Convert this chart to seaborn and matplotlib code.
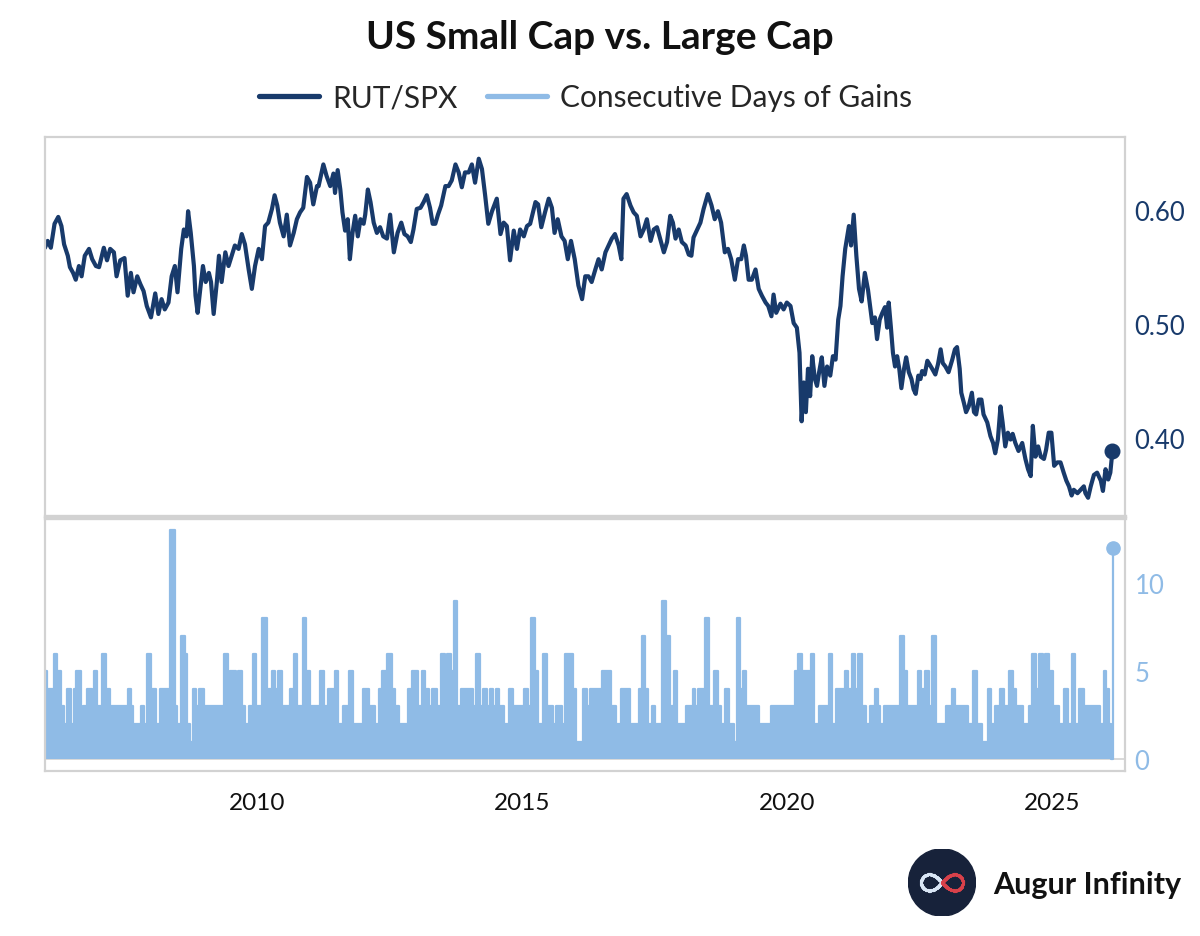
import numpy as np
import pandas as pd
import seaborn as sns
import matplotlib.pyplot as plt
from matplotlib.lines import Line2D
from matplotlib.patches import Circle

# RUT/SPX ratio (decimal year, ratio)
rut_year = [
    2006.00, 2006.05, 2006.11, 2006.18, 2006.25, 2006.31, 2006.36, 2006.43, 2006.47, 2006.53,
    2006.58, 2006.64, 2006.69, 2006.75, 2006.83, 2006.89, 2006.96, 2007.02, 2007.11, 2007.17,
    2007.23, 2007.30, 2007.35, 2007.42, 2007.50, 2007.56, 2007.62, 2007.67, 2007.74, 2007.80,
    2007.86, 2007.92, 2008.00, 2008.08, 2008.14, 2008.20, 2008.26, 2008.33, 2008.39, 2008.45,
    2008.50, 2008.57, 2008.62, 2008.67, 2008.70, 2008.75, 2008.81, 2008.84, 2008.88, 2008.93,
    2008.98, 2009.03, 2009.09, 2009.13, 2009.18, 2009.24, 2009.28, 2009.33, 2009.40, 2009.46,
    2009.52, 2009.58, 2009.65, 2009.71, 2009.77, 2009.84, 2009.90, 2009.96, 2010.03, 2010.09,
    2010.15, 2010.21, 2010.28, 2010.33, 2010.38, 2010.43, 2010.50, 2010.56, 2010.62, 2010.69,
    2010.75, 2010.81, 2010.87, 2010.94, 2011.00, 2011.06, 2011.13, 2011.16, 2011.25, 2011.31,
    2011.38, 2011.44, 2011.47, 2011.52, 2011.57, 2011.61, 2011.66, 2011.71, 2011.75, 2011.80,
    2011.85, 2011.90, 2011.95, 2012.01, 2012.04, 2012.09, 2012.14, 2012.20, 2012.26, 2012.32,
    2012.38, 2012.45, 2012.51, 2012.58, 2012.65, 2012.72, 2012.78, 2012.84, 2012.90, 2012.95,
    2013.01, 2013.08, 2013.14, 2013.20, 2013.26, 2013.31, 2013.36, 2013.41, 2013.47, 2013.55,
    2013.61, 2013.67, 2013.74, 2013.80, 2013.86, 2013.92, 2013.99, 2014.05, 2014.11, 2014.18,
    2014.24, 2014.30, 2014.36, 2014.43, 2014.52, 2014.59, 2014.65, 2014.71, 2014.77, 2014.84,
    2014.90, 2014.96, 2015.03, 2015.09, 2015.15, 2015.25, 2015.30, 2015.36, 2015.43, 2015.50,
    2015.56, 2015.61, 2015.67, 2015.74, 2015.80, 2015.86, 2015.92, 2015.99, 2016.06, 2016.13,
    2016.19, 2016.25, 2016.31, 2016.38, 2016.44, 2016.50, 2016.57, 2016.63, 2016.69, 2016.75,
    2016.82, 2016.87, 2016.91, 2016.97, 2017.04, 2017.10, 2017.16, 2017.23, 2017.29, 2017.35,
    2017.42, 2017.48, 2017.54, 2017.60, 2017.67, 2017.73, 2017.79, 2017.84, 2017.89, 2017.95,
    2018.01, 2018.08, 2018.14, 2018.19, 2018.23, 2018.30, 2018.36, 2018.42, 2018.50, 2018.57,
    2018.63, 2018.69, 2018.75, 2018.82, 2018.88, 2018.94, 2019.01, 2019.07, 2019.13, 2019.18,
    2019.22, 2019.27, 2019.33, 2019.40, 2019.46, 2019.52, 2019.59, 2019.64, 2019.70, 2019.74,
    2019.79, 2019.87, 2019.93, 2019.99, 2020.06, 2020.12, 2020.18, 2020.23, 2020.27, 2020.31,
    2020.35, 2020.39, 2020.43, 2020.47, 2020.52, 2020.56, 2020.60, 2020.65, 2020.70, 2020.75,
    2020.81, 2020.86, 2020.91, 2020.96, 2021.00, 2021.04, 2021.09, 2021.16, 2021.20, 2021.25,
    2021.30, 2021.35, 2021.40, 2021.46, 2021.52, 2021.60, 2021.65, 2021.69, 2021.74, 2021.79,
    2021.84, 2021.88, 2021.91, 2021.95, 2021.99, 2022.03, 2022.07, 2022.11, 2022.15, 2022.20,
    2022.24, 2022.29, 2022.34, 2022.38, 2022.42, 2022.47, 2022.51, 2022.54, 2022.59, 2022.64,
    2022.68, 2022.73, 2022.79, 2022.84, 2022.89, 2022.93, 2022.98, 2023.04, 2023.11, 2023.16,
    2023.20, 2023.25, 2023.28, 2023.33, 2023.37, 2023.42, 2023.48, 2023.52, 2023.56, 2023.61,
    2023.66, 2023.70, 2023.77, 2023.83, 2023.88, 2023.92, 2023.97, 2024.02, 2024.06, 2024.11,
    2024.16, 2024.21, 2024.25, 2024.30, 2024.36, 2024.43, 2024.49, 2024.54, 2024.59, 2024.63,
    2024.68, 2024.73, 2024.78, 2024.84, 2024.88, 2024.93, 2024.98, 2025.03, 2025.09, 2025.15,
    2025.21, 2025.26, 2025.31, 2025.36, 2025.40, 2025.47, 2025.53, 2025.59, 2025.62, 2025.67,
    2025.72, 2025.78, 2025.84, 2025.91, 2025.95, 2026.00, 2026.05, 2026.09, 2026.13,
]
rut_value = [
    0.567, 0.573, 0.567, 0.588, 0.594, 0.586, 0.570, 0.560, 0.550, 0.545,
    0.539, 0.551, 0.542, 0.560, 0.566, 0.557, 0.551, 0.550, 0.567, 0.556,
    0.566, 0.563, 0.542, 0.556, 0.558, 0.525, 0.545, 0.528, 0.542, 0.535,
    0.529, 0.516, 0.506, 0.527, 0.509, 0.522, 0.513, 0.519, 0.542, 0.551,
    0.528, 0.566, 0.583, 0.577, 0.599, 0.580, 0.551, 0.525, 0.510, 0.531,
    0.551, 0.537, 0.545, 0.537, 0.509, 0.537, 0.560, 0.537, 0.563, 0.551,
    0.560, 0.569, 0.566, 0.579, 0.570, 0.548, 0.531, 0.551, 0.566, 0.557,
    0.586, 0.589, 0.601, 0.613, 0.604, 0.589, 0.577, 0.596, 0.569, 0.580,
    0.592, 0.598, 0.602, 0.629, 0.624, 0.605, 0.621, 0.621, 0.640, 0.630,
    0.621, 0.632, 0.615, 0.635, 0.618, 0.598, 0.582, 0.592, 0.557, 0.580,
    0.595, 0.577, 0.592, 0.588, 0.596, 0.618, 0.607, 0.589, 0.580, 0.585,
    0.577, 0.575, 0.596, 0.563, 0.580, 0.589, 0.579, 0.577, 0.572, 0.583,
    0.601, 0.602, 0.607, 0.613, 0.602, 0.588, 0.588, 0.596, 0.604, 0.621,
    0.621, 0.626, 0.640, 0.633, 0.620, 0.633, 0.633, 0.640, 0.624, 0.645,
    0.636, 0.613, 0.588, 0.599, 0.610, 0.579, 0.589, 0.586, 0.556, 0.582,
    0.566, 0.583, 0.577, 0.586, 0.588, 0.607, 0.605, 0.585, 0.598, 0.610,
    0.602, 0.580, 0.592, 0.577, 0.573, 0.557, 0.573, 0.557, 0.534, 0.522,
    0.542, 0.542, 0.537, 0.548, 0.557, 0.548, 0.563, 0.569, 0.575, 0.579,
    0.569, 0.557, 0.610, 0.614, 0.604, 0.598, 0.595, 0.577, 0.583, 0.592,
    0.573, 0.583, 0.585, 0.575, 0.563, 0.572, 0.595, 0.589, 0.575, 0.583,
    0.572, 0.569, 0.561, 0.560, 0.576, 0.583, 0.589, 0.601, 0.614, 0.604,
    0.592, 0.599, 0.589, 0.563, 0.566, 0.557, 0.539, 0.557, 0.557, 0.569,
    0.560, 0.539, 0.539, 0.548, 0.531, 0.525, 0.519, 0.516, 0.507, 0.526,
    0.510, 0.518, 0.513, 0.519, 0.516, 0.501, 0.497, 0.475, 0.415, 0.449,
    0.423, 0.461, 0.437, 0.472, 0.452, 0.446, 0.458, 0.471, 0.446, 0.463,
    0.455, 0.472, 0.469, 0.504, 0.516, 0.542, 0.566, 0.586, 0.569, 0.596,
    0.560, 0.531, 0.520, 0.545, 0.530, 0.501, 0.506, 0.487, 0.504, 0.510,
    0.515, 0.497, 0.519, 0.498, 0.475, 0.463, 0.472, 0.461, 0.444, 0.461,
    0.471, 0.458, 0.452, 0.443, 0.439, 0.455, 0.452, 0.459, 0.456, 0.468,
    0.465, 0.461, 0.456, 0.465, 0.478, 0.466, 0.463, 0.458, 0.469, 0.478,
    0.480, 0.461, 0.440, 0.431, 0.423, 0.428, 0.440, 0.423, 0.421, 0.434,
    0.434, 0.421, 0.414, 0.402, 0.396, 0.387, 0.399, 0.428, 0.414, 0.393,
    0.405, 0.399, 0.404, 0.396, 0.389, 0.396, 0.382, 0.373, 0.367, 0.411,
    0.384, 0.393, 0.384, 0.382, 0.390, 0.405, 0.405, 0.376, 0.379, 0.379,
    0.370, 0.363, 0.358, 0.350, 0.355, 0.352, 0.355, 0.358, 0.352, 0.348,
    0.358, 0.368, 0.370, 0.363, 0.354, 0.373, 0.364, 0.370, 0.389,
]

# consecutive days of gains: level that starts at each decimal year
gain_year = [
    2006.000, 2006.040, 2006.162, 2006.229, 2006.296, 2006.350, 2006.418, 2006.499, 2006.553, 2006.593,
    2006.674, 2006.714, 2006.795, 2006.883, 2006.916, 2006.984, 2007.085, 2007.152, 2007.233, 2007.557,
    2007.624, 2007.658, 2007.806, 2007.873, 2007.927, 2007.995, 2008.096, 2008.163, 2008.365, 2008.453,
    2008.500, 2008.567, 2008.635, 2008.682, 2008.736, 2008.783, 2008.850, 2008.904, 2008.992, 2009.376,
    2009.443, 2009.491, 2009.598, 2009.646, 2009.713, 2009.780, 2009.848, 2009.915, 2009.983, 2010.097,
    2010.185, 2010.272, 2010.340, 2010.394, 2010.474, 2010.623, 2010.690, 2010.757, 2010.859, 2010.926,
    2010.993, 2011.195, 2011.263, 2011.330, 2011.465, 2011.532, 2011.620, 2011.734, 2011.802, 2012.004,
    2012.105, 2012.226, 2012.294, 2012.361, 2012.442, 2012.543, 2012.611, 2012.678, 2012.846, 2012.927,
    2013.035, 2013.102, 2013.170, 2013.237, 2013.305, 2013.385, 2013.466, 2013.534, 2013.588, 2013.655,
    2013.709, 2013.776, 2013.844, 2014.073, 2014.127, 2014.194, 2014.261, 2014.329, 2014.383, 2014.450,
    2014.497, 2014.565, 2014.652, 2014.747, 2014.834, 2015.036, 2015.104, 2015.171, 2015.239, 2015.306,
    2015.394, 2015.461, 2015.576, 2015.643, 2015.744, 2015.811, 2015.960, 2016.013, 2016.148, 2016.216,
    2016.283, 2016.512, 2016.667, 2016.768, 2016.869, 2017.037, 2017.206, 2017.253, 2017.307, 2017.374,
    2017.442, 2017.509, 2017.644, 2017.711, 2017.779, 2017.860, 2017.927, 2018.082, 2018.217, 2018.264,
    2018.318, 2018.453, 2018.520, 2018.621, 2018.688, 2018.756, 2018.823, 2018.891, 2018.992, 2019.046,
    2019.113, 2019.160, 2019.227, 2019.463, 2019.699, 2020.137, 2020.205, 2020.272, 2020.440, 2020.508,
    2020.595, 2020.777, 2020.845, 2020.912, 2021.081, 2021.148, 2021.215, 2021.283, 2021.337, 2021.404,
    2021.485, 2021.552, 2021.653, 2021.700, 2021.754, 2021.822, 2022.125, 2022.192, 2022.260, 2022.462,
    2022.529, 2022.597, 2022.664, 2022.731, 2022.799, 2023.001, 2023.102, 2023.170, 2023.405, 2023.507,
    2023.574, 2023.675, 2023.776, 2023.843, 2023.911, 2024.012, 2024.079, 2024.180, 2024.248, 2024.315,
    2024.450, 2024.551, 2024.618, 2024.686, 2024.753, 2024.821, 2024.868, 2024.935, 2025.002, 2025.124,
    2025.225, 2025.292, 2025.359, 2025.427, 2025.494, 2025.595, 2025.899, 2025.966, 2026.013, 2026.067,
    2026.100, 2026.134,
]
gain_days = [
    5, 4, 6, 5, 3, 2, 4, 2, 4, 5,
    2, 3, 4, 3, 5, 3, 6, 4, 3, 4,
    3, 2, 3, 2, 6, 4, 2, 4, 13, 3,
    2, 7, 6, 2, 1, 4, 3, 4, 3, 6,
    3, 5, 3, 5, 3, 2, 3, 6, 3, 8,
    4, 5, 4, 5, 3, 4, 6, 3, 8, 5,
    3, 5, 3, 4, 5, 2, 3, 5, 2, 4,
    3, 2, 4, 5, 6, 4, 3, 2, 4, 5,
    3, 5, 4, 3, 4, 3, 6, 3, 6, 5,
    9, 3, 4, 3, 6, 3, 4, 3, 4, 3,
    4, 3, 2, 4, 3, 4, 3, 8, 5, 2,
    6, 3, 2, 3, 2, 6, 4, 1, 4, 3,
    4, 5, 3, 2, 4, 2, 4, 7, 4, 2,
    3, 2, 9, 7, 3, 5, 2, 3, 4, 3,
    4, 8, 3, 5, 3, 2, 4, 2, 1, 8,
    4, 5, 3, 2, 3, 5, 6, 5, 6, 2,
    3, 6, 2, 4, 5, 4, 6, 4, 6, 3,
    2, 3, 4, 3, 2, 3, 7, 5, 3, 5,
    4, 5, 3, 7, 2, 3, 4, 3, 2, 5,
    2, 1, 4, 2, 3, 4, 3, 5, 4, 3,
    2, 3, 6, 4, 6, 4, 6, 5, 3, 2,
    4, 2, 6, 2, 4, 3, 2, 5, 4, 2,
    0, 12,
]

NAVY = "#183a6b"
LIGHT = "#8fbbe6"
GRID = "#d2d2d2"


def to_date(years):
    years = np.asarray(years, dtype=float)
    base = pd.to_datetime([f"{int(y)}-01-01" for y in years])
    return base + pd.to_timedelta((years % 1) * 365.25, unit="D")


rut = pd.DataFrame({"date": to_date(rut_year), "ratio": rut_value})
gains = pd.DataFrame({"date": to_date(gain_year), "days": gain_days})

sns.set_theme(style="white")
plt.rcParams["font.family"] = ["Lato", "DejaVu Sans"]

fig = plt.figure(figsize=(12, 9.37), dpi=100)
ax1 = fig.add_axes([0.0375, 0.4482, 0.9, 0.4045])
ax2 = fig.add_axes([0.0375, 0.1761, 0.9, 0.2700], sharex=ax1)

# top panel
sns.lineplot(data=rut, x="date", y="ratio", ax=ax1, color=NAVY, lw=3.0, estimator=None)
ax1.plot(rut["date"].iloc[-1], rut["ratio"].iloc[-1], "o", color=NAVY, ms=10.5)
ax1.set_ylim(0.332, 0.664)
ax1.set_yticks([0.40, 0.50, 0.60])
ax1.set_yticklabels(["0.40", "0.50", "0.60"])

# bottom panel
ax2.axhline(0, color=GRID, lw=1.2, zorder=0)
ax2.fill_between(gains["date"], 0, gains["days"], step="post", color=LIGHT, lw=0)
sns.lineplot(data=gains, x="date", y="days", ax=ax2, color=LIGHT, lw=1.6,
             drawstyle="steps-post", estimator=None)
ax2.plot(gains["date"].iloc[-1], gains["days"].iloc[-1], "o", color=LIGHT, ms=9.5)
ax2.set_ylim(-0.67, 13.7)
ax2.set_yticks([0, 5, 10])

ax1.set_xlim(pd.Timestamp("2006-01-01"), pd.Timestamp("2026-05-15"))
ticks = [pd.Timestamp(f"{y}-01-01") for y in (2010, 2015, 2020, 2025)]
ax2.set_xticks(ticks)
ax2.set_xticklabels(["2010", "2015", "2020", "2025"])

for ax, col in ((ax1, NAVY), (ax2, LIGHT)):
    ax.set_xlabel("")
    ax.set_ylabel("")
    ax.yaxis.tick_right()
    ax.tick_params(axis="y", length=0, pad=7, labelsize=18.5, labelcolor=col)
    for s in ax.spines.values():
        s.set_color(GRID)
        s.set_linewidth(1.6)
ax1.spines["bottom"].set_linewidth(2.4)
ax2.spines["top"].set_linewidth(2.4)
ax1.tick_params(axis="x", length=0, labelbottom=False)
ax2.tick_params(axis="x", length=0, pad=15, labelsize=17.5, labelcolor="#111111")

fig.text(0.5, 0.960, "US Small Cap vs. Large Cap", ha="center", va="center",
         fontsize=28, fontweight="bold", color="#111111")

handles = [Line2D([], [], color=NAVY, lw=3.8), Line2D([], [], color=LIGHT, lw=3.8)]
fig.legend(handles, ["RUT/SPX", "Consecutive Days of Gains"], loc="center",
           bbox_to_anchor=(0.488, 0.895), ncol=2, frameon=False, fontsize=21.5,
           handlelength=2.0, handletextpad=0.45, columnspacing=1.0)

# logo
lax = fig.add_axes([0.757, 0.0213, 0.056, 0.0717])
lax.set_xlim(-1, 1)
lax.set_ylim(-1, 1)
lax.set_aspect("equal")
lax.axis("off")
lax.add_patch(Circle((0, 0), 1, color="#17223a"))
t = np.linspace(0, 2 * np.pi, 300)
lx = 0.62 * np.cos(t) / (1 + np.sin(t) ** 2)
ly = 0.62 * np.sin(t) * np.cos(t) / (1 + np.sin(t) ** 2) * 1.1
lax.plot(lx[lx <= 0], ly[lx <= 0], ".", color="#d9e6f5", ms=2.5)
lax.plot(lx[lx > 0], ly[lx > 0], ".", color="#d8414a", ms=2.5)
fig.text(0.828, 0.0555, "Augur Infinity", ha="left", va="center",
         fontsize=22, fontweight="bold", color="#111111")

fig.savefig("out.png", dpi=100, facecolor="white")
